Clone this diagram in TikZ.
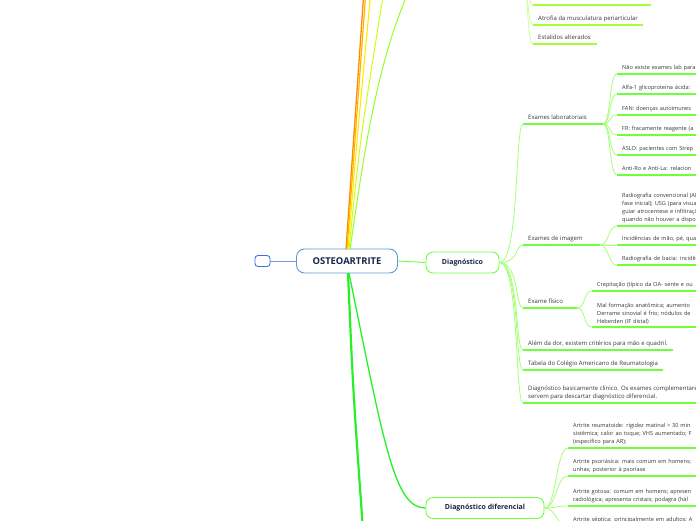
\documentclass[tikz,border=0pt]{standalone}
\usepackage{fontspec}
\setmainfont{Open Sans}
\usetikzlibrary{positioning}
\definecolor{rootline}{RGB}{91,155,213}
\definecolor{rootink}{RGB}{22,38,72}
\definecolor{stubcol}{RGB}{60,110,230}
\definecolor{diagcol}{RGB}{110,255,60}
\definecolor{twigcol}{RGB}{165,255,120}
\definecolor{leafink}{RGB}{55,55,55}
\definecolor{trunkcol}{RGB}{40,240,40}
\definecolor{topcol}{RGB}{165,255,55}
\definecolor{toptwig}{RGB}{205,255,150}
\definecolor{orangeA}{RGB}{255,140,0}
\definecolor{orangeB}{RGB}{255,180,0}
\definecolor{yellowA}{RGB}{255,235,0}
\definecolor{yellowB}{RGB}{205,255,20}
\definecolor{greenA}{RGB}{150,255,40}
\tikzset{
  root/.style   = {draw=rootline, fill=white, rounded corners=8pt, line width=0.9pt,
                   font=\bfseries\fontsize{9.4}{10}\selectfont, text=rootink,
                   minimum width=101pt, minimum height=24pt},
  stub/.style   = {draw=stubcol, rounded corners=3pt, line width=0.9pt,
                   minimum width=15pt, minimum height=11pt, inner sep=0pt},
  stubline/.style = {draw=stubcol!70, line width=1pt},
  branch/.style = {draw=diagcol, fill=white, rounded corners=7pt, line width=0.9pt,
                   font=\bfseries\fontsize{7}{8}\selectfont, text=rootink,
                   minimum height=21pt},
  % one line of text sits on its underline; blocks keep their own depth
  block/.style  = {anchor=south west, align=left, inner xsep=5pt, inner ysep=2.5pt,
                   font=\fontsize{6}{8}\selectfont, text=leafink},
  leaf/.style   = {block, text depth=1.4pt},
  wideleaf/.style = {leaf, text width=150pt, font=\fontsize{5.6}{8}\selectfont},
  wideblock/.style = {block, text width=150pt, font=\fontsize{5.6}{8}\selectfont},
  uline/.style  = {draw=diagcol, line width=1.6pt},
  topline/.style = {draw=topcol, line width=1.6pt},
  stem/.style   = {draw=diagcol, line width=0.9pt},
  twig/.style   = {draw=twigcol, line width=0.8pt},
  toptw/.style  = {draw=toptwig, line width=0.8pt},
  trunk/.style  = {draw=trunkcol, line width=2.2pt},
}

\begin{document}
\begin{tikzpicture}[x=1pt, y=-1pt]
  \useasboundingbox (0,0) rectangle (696,520);

  %% ---------------- centre ----------------
  \node[root] (oa) at (347,261) {OSTEOARTRITE};
  \node[stub] (back) at (262.5,261) {};
  \draw[stubline] (back) -- (oa);

  %% ---------------- branches leaving the page ----------------
  \coordinate (upA) at (364,-10);
  \coordinate (upB) at (366,-10);
  \coordinate (upC) at (371,-10);
  \coordinate (upD) at (384,-10);
  \coordinate (upE) at (414,-20);
  \coordinate (downA) at (363,530);
  \draw[draw=orangeA, line width=1.3pt] (346,249) -- (upA);
  \draw[draw=orangeB, line width=1.2pt] (347,249) -- (upB);
  \draw[draw=yellowA, line width=1.1pt] (348,249) .. controls (356,150) .. (upC);
  \draw[draw=yellowB, line width=1pt] (349,249) .. controls (360,140) .. (upD);
  \draw[draw=greenA, line width=1pt] (350,249) .. controls (362,170) and (375,60) .. (upE);
  \draw[trunk] (348,273) .. controls (353,390) .. (downA);

  %% ---------------- Diagnóstico ----------------
  \node[branch, minimum width=73pt] (diag) at (462.5,262.5) {Diagnóstico};
  \draw[stem] (oa.east) -- (diag.west);

  \node[leaf] (lab) at (523,124) {Exames laboratoriais};
  \node[leaf] (img) at (523,245) {Exames de imagem};
  \node[leaf] (fis) at (523,308) {Exame físico};
  \node[leaf] (dor) at (523,350) {Além da dor, existem critérios para mão e quadril.};
  \node[leaf] (tab) at (523,370) {Tabela do Colégio Americano de Reumatologia};
  \node[block] (cli) at (523,403)
       {Diagnóstico basicamente clínico. Os exames complementares\\
        servem para descartar diagnóstico diferencial.};
  \foreach \n/\len in {lab/80, img/77, fis/54, dor/150, tab/140, cli/200} {
    \draw[uline] (\n.south west) -- ++(\len,0);
    \draw[twig] (diag.east) .. controls +(20,0) and +(-8,0) .. (\n.south west);
  }

  %% exames laboratoriais
  \foreach \n/\y/\txt in {
      la1/74/{Não existe exames lab para},
      la2/94/{Alfa-1 glicoproteína ácida:},
      la3/115/{FAN: doenças autoimunes},
      la4/135/{FR: fracamente reagente (a},
      la5/155/{ASLO: pacientes com Strep},
      la6/175/{Anti-Ro e Anti-La: relacion}} {
    \node[wideleaf] (\n) at (617,\y) {\txt};
    \draw[uline] (\n.south west) -- (\n.south east);
    \draw[twig] (lab.south west) ++(80,0) .. controls +(8,0) and +(-8,0) .. (\n.south west);
  }

  %% exames de imagem
  \node[wideblock] (im1) at (617,226)
       {Radiografia convencional (AP\\ fase inicial); USG (para visua\\
        guiar atrocentese e infiltraçã\\ quando não houver a dispon};
  \node[wideleaf] (im2) at (617,245) {Incidências de mão, pé, quad};
  \node[wideleaf] (im3) at (617,265) {Radiografia de bacia: incidên};
  \foreach \n in {im1, im2, im3} {
    \draw[uline] (\n.south west) -- (\n.south east);
    \draw[twig] (img.south west) ++(77,0) .. controls +(9,0) and +(-9,0) .. (\n.south west);
  }

  %% exame físico
  \node[wideleaf] (fi1) at (592,291) {Crepitação (típico da OA- sente e ou};
  \node[wideblock] (fi2) at (592,327)
       {Mal formação anatômica; aumento\\ Derrame sinovial é frio; nódulos de\\
        Heberden (IF distal)};
  \foreach \n in {fi1, fi2} {
    \draw[uline] (\n.south west) -- (\n.south east);
    \draw[twig] (fis.south west) ++(54,0) .. controls +(9,0) and +(-9,0) .. (\n.south west);
  }

  %% ---------------- Diagnóstico diferencial ----------------
  \node[branch, minimum width=118pt] (ddx) at (485,508) {Diagnóstico diferencial};
  \draw[trunk, line width=1.3pt] (349,273) .. controls (385,450) and (395,508) .. (ddx.west);

  \node[wideblock] (dd1) at (568,448)
       {Artrite reumatoide: rigidez matinal > 30 min\\
        sistêmica; calor ao toque; VHS aumentado; F\\ (específico para AR);};
  \node[wideblock] (dd2) at (568,476)
       {Artrite psoriásica: mais comum em homens;\\ unhas; posterior à psoríase};
  \node[wideblock] (dd3) at (568,506)
       {Artrite gotosa: comum em homens; apresen\\
        radiológica; apresenta cristais; podagra (hál};
  \node[wideleaf] (dd4) at (568,526)
       {Artrite séptica: principalmente em adultos; A};
  \foreach \n in {dd1, dd2, dd3, dd4} {
    \draw[uline] (\n.south west) -- (\n.south east);
    \draw[twig] (ddx.east) .. controls +(12,0) and +(-12,0) .. (\n.south west);
  }

  %% ---------------- top branch, cut by the page ----------------
  \coordinate (topfork) at (521,-40);
  \node[leaf] (tp1) at (533,5) {};
  \node[leaf] (tp2) at (533,25) {Atrofia da musculatura periarticular};
  \node[leaf] (tp3) at (533,44) {Estalidos alterados};
  \foreach \n/\len in {tp1/118, tp2/110, tp3/64} {
    \draw[topline] (\n.south west) -- ++(\len,0);
    \draw[toptw] (topfork) .. controls +(7,0) and +(-7,0) .. (\n.south west);
  }

\end{tikzpicture}
\end{document}
